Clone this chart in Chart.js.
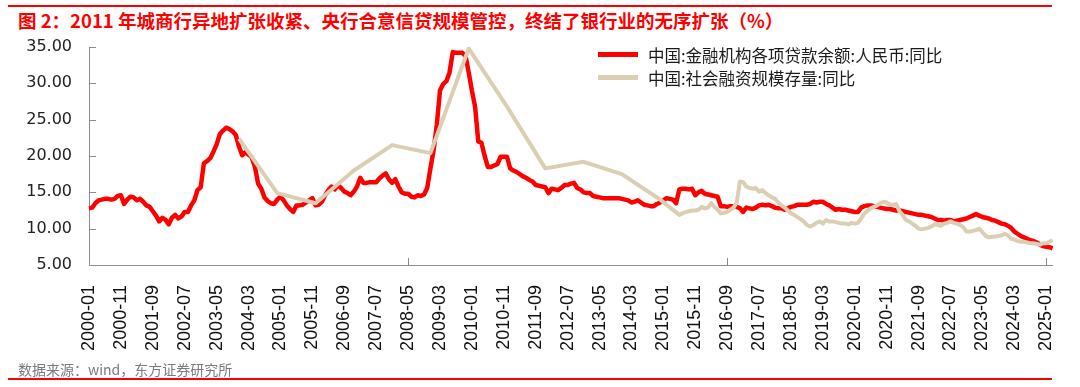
<!DOCTYPE html>
<html>
<head>
<meta charset="utf-8">
<script src="https://cdn.jsdelivr.net/npm/chart.js@4.4.1/dist/chart.umd.min.js"></script>
<style>
  html, body { margin: 0; padding: 0; background: #fff; }
  #wrap { position: relative; width: 1080px; height: 387px; overflow: hidden;
          font-family: "Noto Sans CJK SC", "Liberation Sans", Arial, sans-serif; }
  canvas { position: absolute; left: 0; top: 0; }
  .rule { position: absolute; left: 8px; width: 1044px; height: 2px; background: #ff0000; }
  #title { position: absolute; left: 18px; top: 7px; font-size: 18.5px; font-weight: bold;
           color: #ff0000; white-space: nowrap; line-height: 26px; }
  #source { position: absolute; left: 18px; top: 359px; font-size: 14px; color: #7a7a7a;
            white-space: nowrap; line-height: 20px; }
  #legend { position: absolute; left: 598px; top: 43px; font-size: 16.5px; color: #1a1a1a; }
  #legend .item { display: flex; align-items: center; height: 23px; white-space: nowrap; }
  #legend .swatch { width: 40px; height: 5px; margin-right: 10px; }
</style>
</head>
<body>
<div id="wrap">
  <div class="rule" style="top:5px"></div>
  <div id="title">图 2：2011 年城商行异地扩张收紧、央行合意信贷规模管控，终结了银行业的无序扩张（%）</div>
  <canvas id="chart" width="1080" height="387"></canvas>
  <div id="legend"></div>
  <div id="source">数据来源：wind，东方证券研究所</div>
  <div class="rule" style="top:378px"></div>
</div>
<script>
// months 2000-01 .. 2025-03
const months = [];
for (let y = 2000; y <= 2025; y++) {
  for (let m = 1; m <= 12; m++) {
    months.push(y + "-" + String(m).padStart(2, "0"));
    if (y === 2025 && m === 3) break;
  }
}

// 中国:金融机构各项贷款余额:人民币:同比 (monthly)
const loanGrowth = [
  12.8, 12.9, 13.5, 13.9, 14.0, 14.1, 14.1, 14.0, 14.1, 14.5, 14.6, 13.4, // 2000
  14.0, 14.4, 14.3, 13.9, 14.1, 13.7, 13.2, 13.0, 12.4, 11.8, 11.0, 11.5, // 2001
  11.2, 10.6, 11.5, 11.9, 11.4, 11.7, 12.3, 12.3, 13.2, 13.9, 15.3, 15.7, // 2002
  19.0, 19.3, 19.7, 20.6, 21.6, 23.0, 23.5, 23.9, 23.7, 23.4, 22.9, 21.3, // 2003
  20.1, 20.5, 20.2, 19.8, 18.5, 16.2, 15.5, 14.3, 13.8, 13.5, 13.4, 14.0, // 2004
  14.4, 13.9, 13.2, 12.7, 12.3, 13.2, 13.2, 13.3, 13.6, 13.9, 14.2, 13.2, // 2005
  13.3, 13.7, 14.6, 15.3, 15.8, 15.4, 16.0, 15.6, 15.1, 14.9, 14.6, 15.1, // 2006
  15.8, 17.0, 16.3, 16.3, 16.4, 16.4, 16.4, 16.9, 17.3, 17.6, 16.8, 16.3, // 2007
  16.8, 15.8, 15.0, 14.8, 14.8, 14.4, 14.3, 14.6, 14.5, 14.7, 15.6, 18.3, // 2008
  20.8, 24.3, 29.0, 29.9, 30.3, 31.5, 34.3, 34.2, 34.2, 34.2, 33.8, 31.5, // 2009
  29.0, 26.8, 22.0, 21.8, 20.0, 18.5, 18.5, 18.7, 18.9, 19.9, 19.9, 19.9, // 2010
  18.3, 18.0, 17.8, 17.5, 17.2, 17.0, 16.7, 16.5, 16.0, 15.9, 15.8, 15.7, // 2011
  14.9, 15.5, 15.4, 15.3, 15.6, 16.0, 16.0, 16.2, 16.3, 15.6, 15.4, 15.0, // 2012
  14.9, 14.9, 14.5, 14.4, 14.3, 14.2, 14.2, 14.2, 14.2, 14.2, 14.2, 14.1, // 2013
  14.0, 13.9, 13.6, 13.7, 13.9, 13.6, 13.3, 13.2, 13.1, 13.1, 13.4, 13.6, // 2014
  13.9, 14.2, 14.1, 14.0, 13.5, 15.4, 15.5, 15.5, 15.4, 15.5, 14.6, 15.0, // 2015
  15.2, 14.8, 14.7, 14.6, 14.5, 14.4, 13.1, 13.1, 13.0, 13.1, 13.1, 13.0, // 2016
  12.8, 12.3, 12.9, 12.8, 12.7, 12.9, 13.2, 13.3, 13.2, 13.3, 13.1, 12.9, // 2017
  12.8, 12.8, 12.6, 12.8, 13.0, 13.1, 13.3, 13.3, 13.3, 13.3, 13.4, 13.7, // 2018
  13.6, 13.7, 13.7, 13.4, 13.2, 12.9, 12.6, 12.7, 12.6, 12.6, 12.5, 12.4, // 2019
  12.3, 12.3, 12.9, 13.1, 13.2, 13.2, 13.1, 13.0, 12.9, 12.8, 12.7, 12.7, // 2020
  12.6, 12.5, 12.5, 12.4, 12.3, 12.2, 12.1, 12.0, 11.9, 11.9, 11.8, 11.7, // 2021
  11.6, 11.4, 11.2, 11.2, 11.1, 11.2, 11.2, 11.0, 11.1, 11.2, 11.3, 11.4, // 2022
  11.6, 11.8, 12.0, 11.8, 11.6, 11.5, 11.4, 11.2, 11.1, 10.9, 10.7, 10.6, // 2023
  10.4, 10.1, 9.6, 9.3, 9.0, 8.8, 8.6, 8.4, 8.3, 8.1, 7.8, 7.6,           // 2024
  7.5, 7.45, 7.3                                                          // 2025
];

// 中国:社会融资规模存量:同比 (year-end points, then monthly from 2015-06)
const sfAnnualMonths = ["2003-12", "2004-12", "2005-12", "2006-12", "2007-12", "2008-12",
                        "2009-12", "2010-12", "2011-12", "2012-12", "2013-12", "2014-12"];
const sfAnnualValues = [22.4, 14.9, 13.5, 18.0, 21.5, 20.4, 34.8, 26.8, 18.3, 19.2, 17.5, 14.0];
const sfMonthlyStart = "2015-06";
const sfMonthlyValues = [
  11.9, 12.1, 12.3, 12.4, 12.5, 12.5, 12.6,                               // 2015-06..12
  13.0, 12.8, 12.9, 13.5, 13.0, 12.6, 12.1, 12.2, 12.3, 12.6, 12.9, 13.6, // 2016
  16.5, 16.4, 15.8, 15.6, 15.5, 15.6, 15.1, 15.3, 14.9, 14.6, 14.3, 14.1, // 2017
  13.6, 13.2, 12.9, 12.5, 12.1, 11.9, 11.6, 11.3, 11.0, 10.5, 10.3, 10.5, // 2018
  10.8, 11.0, 10.7, 11.2, 11.0, 11.0, 10.9, 10.8, 10.7, 10.7, 10.6, 10.8, // 2019
  10.7, 10.8, 11.4, 12.1, 12.5, 12.8, 13.0, 13.2, 13.5, 13.7, 13.6, 13.3, // 2020
  13.3, 13.4, 12.4, 11.9, 11.2, 11.0, 10.7, 10.4, 10.0, 9.9, 10.0, 10.1,  // 2021
  10.3, 10.6, 10.5, 10.4, 10.7, 10.8, 11.0, 10.8, 10.7, 10.5, 10.2, 9.6,  // 2022
  9.6, 9.7, 9.8, 10.0, 9.5, 9.0, 8.8, 8.9, 8.9, 9.0, 9.1, 9.3,            // 2023
  9.1, 8.6, 8.5, 8.3, 8.2, 8.2, 8.1, 8.0, 8.0, 7.9, 7.8, 8.0,             // 2024
  8.0, 8.2, 8.4                                                           // 2025
];

const yTicks = [5, 10, 15, 20, 25, 30, 35];

const sfData = sfAnnualMonths.map((m, i) => ({ x: m, y: sfAnnualValues[i] }));
const sfStartIdx = months.indexOf(sfMonthlyStart);
sfMonthlyValues.forEach((v, i) => sfData.push({ x: months[sfStartIdx + i], y: v }));

const axisColor = "#8c8c8c";

// short tick marks pointing into the plot, like the original
const innerTicks = {
  id: "innerTicks",
  afterDatasetsDraw(chart) {
    const { ctx, chartArea, scales } = chart;
    ctx.save();
    ctx.strokeStyle = axisColor;
    ctx.lineWidth = 1;
    scales.x.ticks.forEach((t, i) => {
      if (i % 10 !== 0) return;
      const px = Math.round(scales.x.getPixelForTick(i)) + 0.5;
      ctx.beginPath();
      ctx.moveTo(px, chartArea.bottom);
      ctx.lineTo(px, chartArea.bottom - 7);
      ctx.stroke();
    });
    scales.y.ticks.forEach((t, i) => {
      const py = Math.round(scales.y.getPixelForTick(i)) + 0.5;
      ctx.beginPath();
      ctx.moveTo(chartArea.left, py);
      ctx.lineTo(chartArea.left + 7, py);
      ctx.stroke();
    });
    ctx.restore();
  }
};

const chart = new Chart(document.getElementById("chart"), {
  type: "line",
  data: {
    labels: months,
    datasets: [
      {
        label: "中国:金融机构各项贷款余额:人民币:同比",
        data: loanGrowth,
        borderColor: "#ff0000",
        borderWidth: 4.5,
        pointRadius: 0,
        borderJoinStyle: "round",
        order: 2
      },
      {
        label: "中国:社会融资规模存量:同比",
        data: sfData,
        borderColor: "#dbcfb3",
        borderWidth: 4,
        pointRadius: 0,
        borderJoinStyle: "round",
        order: 1
      }
    ]
  },
  options: {
    responsive: false,
    animation: false,
    layout: { padding: { left: 0, top: 47, right: 23, bottom: 0 } },
    plugins: { legend: { display: false }, tooltip: { enabled: false } },
    scales: {
      x: {
        grid: { display: false },
        border: { display: true, color: axisColor, width: 1 },
        ticks: {
          autoSkip: false,
          maxRotation: 90,
          minRotation: 90,
          padding: 12,
          color: "#111",
          font: { family: "'Liberation Sans', Arial, sans-serif", size: 18 },
          callback: function (v, i) { return i % 10 === 0 ? this.getLabelForValue(v) : null; }
        },
        afterFit: (s) => { s.height = 122; }
      },
      y: {
        min: 5,
        max: 35,
        afterBuildTicks: (s) => { s.ticks = yTicks.map(v => ({ value: v })); },
        grid: { display: false },
        border: { display: true, color: axisColor, width: 1 },
        ticks: {
          padding: 9,
          color: "#222",
          font: { family: "'DejaVu Sans', sans-serif", size: 16 },
          callback: (v) => v.toFixed(2)
        },
        afterFit: (s) => { s.width = 89; }
      }
    }
  },
  plugins: [innerTicks]
});

// legend built from the chart's datasets
const legend = document.getElementById("legend");
chart.data.datasets.forEach((ds) => {
  const item = document.createElement("div");
  item.className = "item";
  const sw = document.createElement("span");
  sw.className = "swatch";
  sw.style.background = ds.borderColor;
  const tx = document.createElement("span");
  tx.textContent = ds.label;
  item.appendChild(sw);
  item.appendChild(tx);
  legend.appendChild(item);
});
</script>
</body>
</html>
